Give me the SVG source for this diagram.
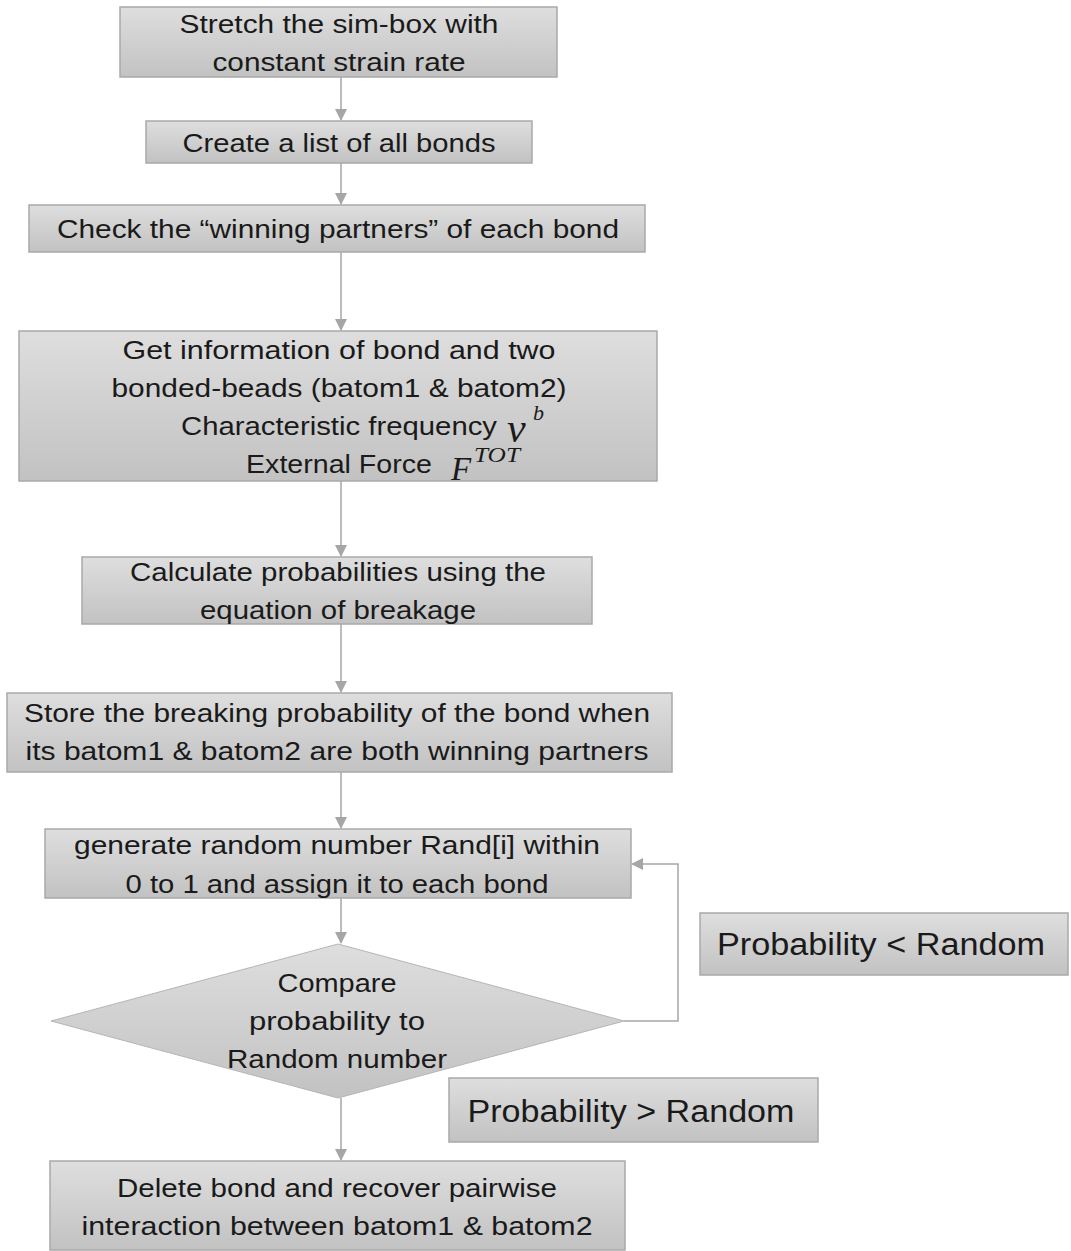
<svg xmlns="http://www.w3.org/2000/svg" width="1071" height="1251" viewBox="0 0 1071 1251">
<defs>
<linearGradient id="g" x1="0" y1="0" x2="0" y2="1">
<stop offset="0" stop-color="#dedede"/>
<stop offset="1" stop-color="#c2c2c2"/>
</linearGradient>
<marker id="ah" markerWidth="12" markerHeight="12" refX="11" refY="6" orient="auto" markerUnits="userSpaceOnUse">
<path d="M0,0 L12,6 L0,12 Z" fill="#a6a6a6"/>
</marker>
<style>
.box{fill:url(#g);stroke:#a9a9a9;stroke-width:1.5}
.t{font-family:"Liberation Sans",Arial,sans-serif;font-size:26px;fill:#1a1a1a;text-anchor:middle}
.tl{font-family:"Liberation Sans",Arial,sans-serif;font-size:31px;fill:#1a1a1a;text-anchor:middle}
.m{font-family:"Liberation Serif","Times New Roman",serif;font-style:italic;fill:#1a1a1a}
.c{stroke:#a6a6a6;stroke-width:1.5;fill:none}
</style>
</defs>
<rect width="1071" height="1251" fill="#ffffff"/>
<g id="connectors">
<line class="c" x1="341" y1="77" x2="341" y2="120" marker-end="url(#ah)"/>
<line class="c" x1="341" y1="163" x2="341" y2="204" marker-end="url(#ah)"/>
<line class="c" x1="341" y1="252" x2="341" y2="330" marker-end="url(#ah)"/>
<line class="c" x1="341" y1="481" x2="341" y2="556" marker-end="url(#ah)"/>
<line class="c" x1="341" y1="624" x2="341" y2="692" marker-end="url(#ah)"/>
<line class="c" x1="341" y1="772" x2="341" y2="828" marker-end="url(#ah)"/>
<line class="c" x1="341" y1="898" x2="341" y2="943" marker-end="url(#ah)"/>
<polyline class="c" points="624,1021 678,1021 678,864 632,864" marker-end="url(#ah)"/>
<line class="c" x1="341" y1="1098" x2="341" y2="1160" marker-end="url(#ah)"/>
</g>
<g id="n1">
<rect class="box" x="120" y="7" width="437" height="70"/>
<text class="t" x="339" y="33" textLength="319" lengthAdjust="spacingAndGlyphs">Stretch the sim-box with</text>
<text class="t" x="339" y="71" textLength="253" lengthAdjust="spacingAndGlyphs">constant strain rate</text>
</g>
<g id="n2">
<rect class="box" x="146" y="121" width="386" height="42"/>
<text class="t" x="339" y="152" textLength="313" lengthAdjust="spacingAndGlyphs">Create a list of all bonds</text>
</g>
<g id="n3">
<rect class="box" x="29" y="205" width="616" height="47"/>
<text class="t" x="338" y="238" textLength="562" lengthAdjust="spacingAndGlyphs">Check the “winning partners” of each bond</text>
</g>
<g id="n4">
<rect class="box" x="19" y="331" width="638" height="150"/>
<text class="t" x="339" y="359" textLength="433" lengthAdjust="spacingAndGlyphs">Get information of bond and two</text>
<text class="t" x="339" y="397" textLength="455" lengthAdjust="spacingAndGlyphs">bonded-beads (batom1 &amp; batom2)</text>
<text class="t" x="339" y="435" textLength="316" lengthAdjust="spacingAndGlyphs">Characteristic frequency</text>
<text class="m" x="507" y="442" font-size="42">ν</text>
<text class="m" x="533" y="420" font-size="22">b</text>
<text class="t" x="339" y="473" textLength="186" lengthAdjust="spacingAndGlyphs">External Force</text>
<text class="m" x="451" y="480" font-size="33">F</text>
<text class="m" x="474" y="462" font-size="21" textLength="46" lengthAdjust="spacingAndGlyphs">TOT</text>
</g>
<g id="n5">
<rect class="box" x="82" y="557" width="510" height="67"/>
<text class="t" x="338" y="581" textLength="416" lengthAdjust="spacingAndGlyphs">Calculate probabilities using the</text>
<text class="t" x="338" y="619" textLength="276" lengthAdjust="spacingAndGlyphs">equation of breakage</text>
</g>
<g id="n6">
<rect class="box" x="7" y="693" width="665" height="79"/>
<text class="t" x="337" y="722" textLength="626" lengthAdjust="spacingAndGlyphs">Store the breaking probability of the bond when</text>
<text class="t" x="337" y="760" textLength="623" lengthAdjust="spacingAndGlyphs">its batom1 &amp; batom2 are both winning partners</text>
</g>
<g id="n7">
<rect class="box" x="45" y="829" width="586" height="69"/>
<text class="t" x="337" y="854" textLength="526" lengthAdjust="spacingAndGlyphs">generate random number Rand[i] within</text>
<text class="t" x="337" y="893" textLength="423" lengthAdjust="spacingAndGlyphs">0 to 1 and assign it to each bond</text>
</g>
<g id="n8">
<polygon points="338,944 624,1021 338,1098 51,1021" fill="url(#g)" stroke="#b5b5b5" stroke-width="1"/>
<text class="t" x="337" y="992" textLength="119" lengthAdjust="spacingAndGlyphs">Compare</text>
<text class="t" x="337" y="1030" textLength="176" lengthAdjust="spacingAndGlyphs">probability to</text>
<text class="t" x="337" y="1068" textLength="220" lengthAdjust="spacingAndGlyphs">Random number</text>
</g>
<g id="l1">
<rect class="box" x="700" y="913" width="368" height="62"/>
<text class="tl" x="881" y="955" textLength="328" lengthAdjust="spacingAndGlyphs">Probability &lt; Random</text>
</g>
<g id="l2">
<rect class="box" x="449" y="1078" width="369" height="64"/>
<text class="tl" x="631" y="1122" textLength="327" lengthAdjust="spacingAndGlyphs">Probability &gt; Random</text>
</g>
<g id="n9">
<rect class="box" x="50" y="1161" width="575" height="89"/>
<text class="t" x="337" y="1197" textLength="440" lengthAdjust="spacingAndGlyphs">Delete bond and recover pairwise</text>
<text class="t" x="337" y="1235" textLength="511" lengthAdjust="spacingAndGlyphs">interaction between batom1 &amp; batom2</text>
</g>
</svg>
